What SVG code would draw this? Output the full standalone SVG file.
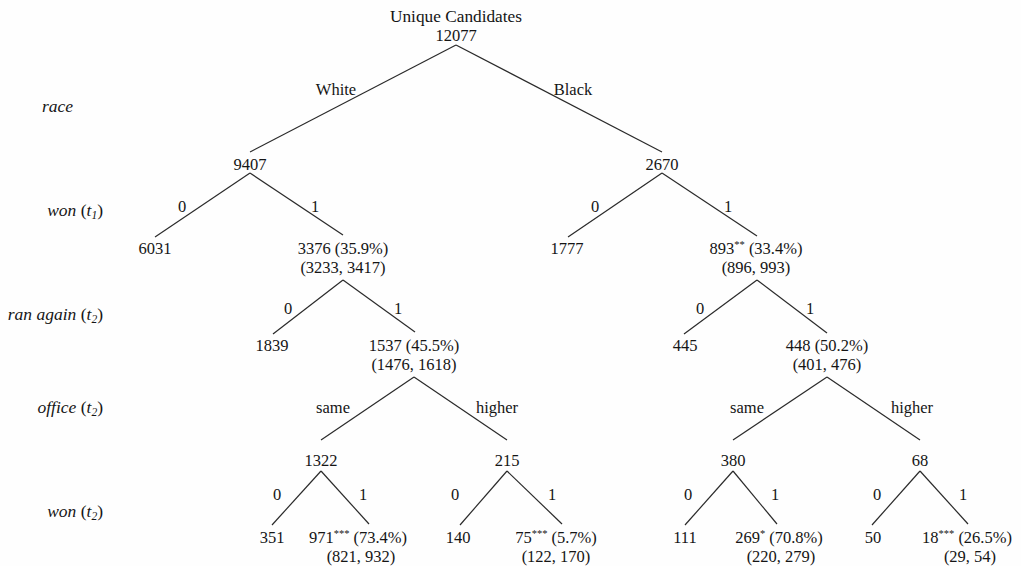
<svg xmlns="http://www.w3.org/2000/svg" width="1021" height="566" viewBox="0 0 1021 566">
<style>
text{font-family:"Liberation Serif","DejaVu Serif",serif;font-size:16.5px;fill:#151515;}
.n{text-anchor:middle;}
.e{text-anchor:middle;}
.r{text-anchor:end;font-style:italic;font-size:17.5px;}
.u{font-style:normal;}
.sub{font-size:11.5px;}
.sup{font-size:10.5px;}
.big{font-size:17.3px;}
#connectors line{stroke:#2a2a2a;stroke-width:1.2;}
</style>
<rect width="1021" height="566" fill="#fefefe"/>
<g id="row-labels">
<text class="r" x="73" y="112">race</text>
<text class="r" x="103" y="216">won <tspan class="u">(</tspan>t<tspan class="sub" dy="3">1</tspan><tspan class="u" dy="-3">)</tspan></text>
<text class="r" x="103" y="320">ran again <tspan class="u">(</tspan>t<tspan class="sub" dy="3">2</tspan><tspan class="u" dy="-3">)</tspan></text>
<text class="r" x="103" y="413">office <tspan class="u">(</tspan>t<tspan class="sub" dy="3">2</tspan><tspan class="u" dy="-3">)</tspan></text>
<text class="r" x="103" y="517">won <tspan class="u">(</tspan>t<tspan class="sub" dy="3">2</tspan><tspan class="u" dy="-3">)</tspan></text>
</g>
<g id="connectors">
<line x1="456" y1="45" x2="250" y2="152"/>
<line x1="456" y1="45" x2="662" y2="152"/>
<line x1="250" y1="173" x2="155" y2="237"/>
<line x1="250" y1="173" x2="343" y2="235"/>
<line x1="662" y1="173" x2="568" y2="237"/>
<line x1="662" y1="173" x2="757" y2="236"/>
<line x1="343" y1="280" x2="273" y2="334"/>
<line x1="343" y1="280" x2="415" y2="332"/>
<line x1="757" y1="280" x2="684" y2="334"/>
<line x1="757" y1="280" x2="827" y2="333"/>
<line x1="414" y1="377" x2="321" y2="440"/>
<line x1="414" y1="377" x2="507" y2="440"/>
<line x1="827" y1="377" x2="733" y2="440"/>
<line x1="827" y1="377" x2="920" y2="440"/>
<line x1="321" y1="471" x2="272" y2="525"/>
<line x1="321" y1="471" x2="369" y2="524"/>
<line x1="507" y1="471" x2="460" y2="525"/>
<line x1="507" y1="471" x2="562" y2="524"/>
<line x1="733" y1="471" x2="685" y2="525"/>
<line x1="733" y1="471" x2="777" y2="524"/>
<line x1="920" y1="471" x2="872" y2="525"/>
<line x1="920" y1="471" x2="968" y2="524"/>
</g>
<g id="edge-labels">
<text class="e" x="336" y="95">White</text>
<text class="e" x="573" y="95">Black</text>
<text class="e" x="182" y="212">0</text>
<text class="e" x="315" y="212">1</text>
<text class="e" x="595" y="212">0</text>
<text class="e" x="728" y="212">1</text>
<text class="e" x="288" y="314">0</text>
<text class="e" x="398" y="314">1</text>
<text class="e" x="700" y="314">0</text>
<text class="e" x="810" y="314">1</text>
<text class="e" x="333" y="413">same</text>
<text class="e" x="497" y="413">higher</text>
<text class="e" x="747" y="413">same</text>
<text class="e" x="912" y="413">higher</text>
<text class="e" x="277" y="500">0</text>
<text class="e" x="363" y="500">1</text>
<text class="e" x="455" y="500">0</text>
<text class="e" x="552" y="500">1</text>
<text class="e" x="688" y="500">0</text>
<text class="e" x="775" y="500">1</text>
<text class="e" x="877" y="500">0</text>
<text class="e" x="963" y="500">1</text>
</g>
<g id="root"><text class="n big" x="456" y="22">Unique Candidates</text><text class="n" x="456" y="41">12077</text></g>
<g id="n-white"><text class="n" x="250" y="170">9407</text></g>
<g id="n-black"><text class="n" x="662" y="170">2670</text></g>
<g id="n-w-won0"><text class="n" x="155" y="254">6031</text></g>
<g id="n-w-won1"><text class="n" x="343" y="254">3376 (35.9%)</text><text class="n" x="343" y="273">(3233, 3417)</text></g>
<g id="n-b-won0"><text class="n" x="567" y="254">1777</text></g>
<g id="n-b-won1"><text class="n" x="756" y="254">893<tspan class="sup" dy="-6">**</tspan><tspan dy="6"> (33.4%)</tspan></text><text class="n" x="756" y="273">(896, 993)</text></g>
<g id="n-w-ran0"><text class="n" x="272" y="351">1839</text></g>
<g id="n-w-ran1"><text class="n" x="414" y="351">1537 (45.5%)</text><text class="n" x="414" y="370">(1476, 1618)</text></g>
<g id="n-b-ran0"><text class="n" x="685" y="351">445</text></g>
<g id="n-b-ran1"><text class="n" x="827" y="351">448 (50.2%)</text><text class="n" x="827" y="370">(401, 476)</text></g>
<g id="n-w-same"><text class="n" x="321" y="466">1322</text></g>
<g id="n-w-higher"><text class="n" x="507" y="466">215</text></g>
<g id="n-b-same"><text class="n" x="733" y="466">380</text></g>
<g id="n-b-higher"><text class="n" x="920" y="466">68</text></g>
<g id="n-ws-0"><text class="n" x="272" y="543">351</text></g>
<g id="n-ws-1"><text class="n" x="358" y="543">971<tspan class="sup" dy="-6">***</tspan><tspan dy="6"> (73.4%)</tspan></text><text class="n" x="361" y="562">(821, 932)</text></g>
<g id="n-wh-0"><text class="n" x="458" y="543">140</text></g>
<g id="n-wh-1"><text class="n" x="556" y="543">75<tspan class="sup" dy="-6">***</tspan><tspan dy="6"> (5.7%)</tspan></text><text class="n" x="556" y="562">(122, 170)</text></g>
<g id="n-bs-0"><text class="n" x="685" y="543">111</text></g>
<g id="n-bs-1"><text class="n" x="779" y="543">269<tspan class="sup" dy="-6">*</tspan><tspan dy="6"> (70.8%)</tspan></text><text class="n" x="781" y="562">(220, 279)</text></g>
<g id="n-bh-0"><text class="n" x="873" y="543">50</text></g>
<g id="n-bh-1"><text class="n" x="967" y="543">18<tspan class="sup" dy="-6">***</tspan><tspan dy="6"> (26.5%)</tspan></text><text class="n" x="970" y="562">(29, 54)</text></g>
</svg>
